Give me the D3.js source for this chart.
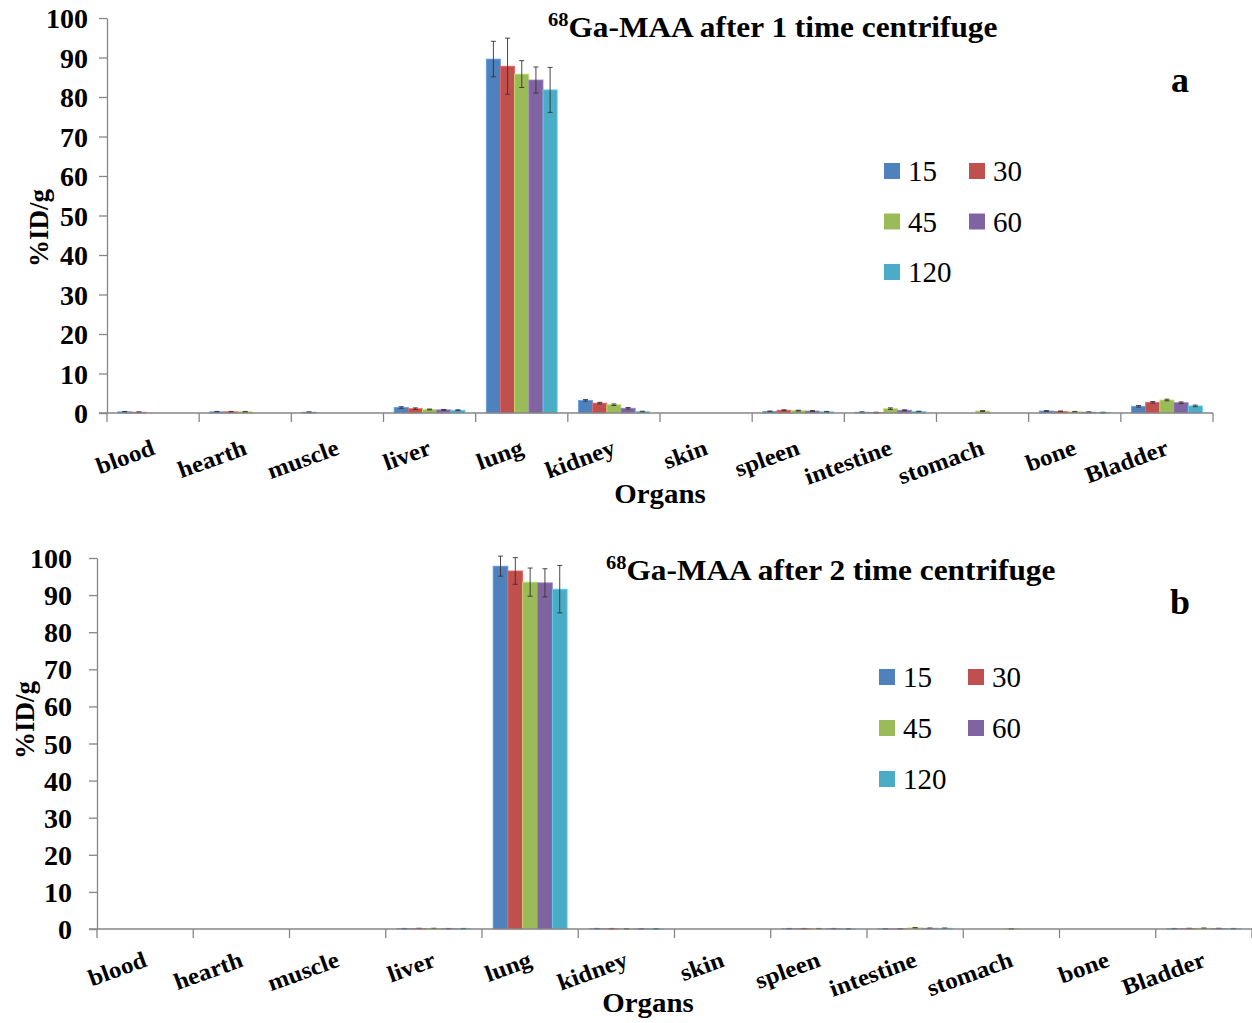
<!DOCTYPE html>
<html>
<head>
<meta charset="utf-8">
<script src="https://cdn.jsdelivr.net/npm/d3@7"></script>
<style>
  html, body { margin: 0; padding: 0; background: #fff; }
  svg { display: block; }
  text { font-family: "Liberation Serif", "Times New Roman", serif; fill: #000; }
</style>
</head>
<body>
<svg id="chart" width="1252" height="1023"></svg>
<script>
// ---------- data ----------
const organs = ["blood", "hearth", "muscle", "liver", "lung", "kidney", "skin", "spleen", "intestine", "stomach", "bone", "Bladder"];
const seriesNames = ["15", "30", "45", "60", "120"];
const seriesColors = ["#4F81BD", "#C0504D", "#9BBB59", "#8064A2", "#4BACC6"];
const yTicks = [0, 10, 20, 30, 40, 50, 60, 70, 80, 90, 100];

// panel a: after 1 time centrifuge (%ID/g)
const a15  = [0.3, 0.3, 0.2, 1.4, 89.6, 3.2, 0, 0.4, 0.2, 0,   0.5, 1.7];
const a30  = [0.2, 0.3, 0,   1.1, 87.8, 2.5, 0, 0.7, 0.1, 0,   0.4, 2.7];
const a45  = [0,   0.3, 0,   0.9, 85.8, 2.1, 0, 0.6, 1.1, 0.5, 0.3, 3.3];
const a60  = [0,   0,   0,   0.8, 84.3, 1.2, 0, 0.5, 0.7, 0,   0.2, 2.6];
const a120 = [0,   0,   0,   0.7, 81.8, 0.35,0, 0.3, 0.35,0,   0.1, 1.8];
const aErr15  = [0.1, 0.1, 0.1, 0.2, 4.5, 0.2, 0, 0.1, 0.1, 0,   0.1, 0.2];
const aErr30  = [0.1, 0.1, 0,   0.2, 7.1, 0.2, 0, 0.1, 0.1, 0,   0.1, 0.2];
const aErr45  = [0,   0.1, 0,   0.1, 3.4, 0.2, 0, 0.1, 0.2, 0.1, 0.1, 0.2];
const aErr60  = [0,   0,   0,   0.1, 3.3, 0.2, 0, 0.1, 0.1, 0,   0.1, 0.2];
const aErr120 = [0,   0,   0,   0.1, 5.7, 0.1, 0, 0.1, 0.1, 0,   0.1, 0.2];

// panel b: after 2 time centrifuge (%ID/g)
const b15  = [0, 0, 0, 0.1,  97.8, 0.1,  0, 0.1,  0.05, 0,    0, 0.1];
const b30  = [0, 0, 0, 0.15, 96.5, 0.1,  0, 0.1,  0.05, 0,    0, 0.15];
const b45  = [0, 0, 0, 0.15, 93.5, 0.05, 0, 0.1,  0.3,  0.05, 0, 0.2];
const b60  = [0, 0, 0, 0.1,  93.3, 0.05, 0, 0.1,  0.2,  0,    0, 0.15];
const b120 = [0, 0, 0, 0.1,  91.6, 0.05, 0, 0.05, 0.2,  0,    0, 0.1];
const bErr15  = [0, 0, 0, 0.05, 2.7, 0.05, 0, 0.05, 0.05, 0,    0, 0.05];
const bErr30  = [0, 0, 0, 0.05, 3.6, 0.05, 0, 0.05, 0.05, 0,    0, 0.05];
const bErr45  = [0, 0, 0, 0.05, 3.8, 0.05, 0, 0.05, 0.05, 0.05, 0, 0.05];
const bErr60  = [0, 0, 0, 0.05, 3.8, 0.05, 0, 0.05, 0.05, 0,    0, 0.05];
const bErr120 = [0, 0, 0, 0.05, 6.4, 0.05, 0, 0.05, 0.05, 0,    0, 0.05];

const titleA = { sup: "68", main: "Ga-MAA after 1 time centrifuge" };
const titleB = { sup: "68", main: "Ga-MAA after 2 time centrifuge" };
const yLabel = "%ID/g";
const xLabel = "Organs";

// ---------- drawing ----------
const svg = d3.select("#chart");
const FONT = '"Liberation Serif", "Times New Roman", serif';
const AXIS = "#868686";
const STRETCH = 1.07;

function drawPanel(p) {
  const g = svg.append("g");
  const y = d3.scaleLinear().domain([0, 100]).range([p.y0, p.y100]);
  const x0 = d3.scaleBand().domain(organs).range([p.left, p.right]).padding(0);
  const bw = x0.bandwidth();
  const x1 = d3.scaleBand().domain(seriesNames).range([bw * 0.75 / 6.5, bw * 5.75 / 6.5]).padding(0);

  // bars
  seriesNames.forEach((s, i) => {
    const rows = organs.map((o, j) => ({ o, v: p.values[i][j], e: p.errors[i][j] }));
    const sg = g.append("g");
    sg.selectAll("rect").data(rows.filter(d => d.v > 0)).join("rect")
      .attr("x", d => x0(d.o) + x1(s))
      .attr("y", d => y(d.v))
      .attr("width", x1.bandwidth())
      .attr("height", d => y(0) - y(d.v))
      .attr("fill", seriesColors[i])
      .attr("stroke", d3.color(seriesColors[i]).brighter(0.6))
      .attr("stroke-width", 0.8);
    const eb = rows.filter(d => d.v > 0 && d.e > 0);
    const cx = d => x0(d.o) + x1(s) + x1.bandwidth() / 2;
    sg.selectAll("line.v").data(eb).join("line").attr("class", "v")
      .attr("x1", cx).attr("x2", cx)
      .attr("y1", d => y(d.v + d.e)).attr("y2", d => y(Math.max(0, d.v - d.e)))
      .attr("stroke", "#333").attr("stroke-width", 0.9);
    ["t", "b"].forEach(k => {
      sg.selectAll("line.c" + k).data(eb).join("line").attr("class", "c" + k)
        .attr("x1", d => cx(d) - 2.5).attr("x2", d => cx(d) + 2.5)
        .attr("y1", d => y(k === "t" ? d.v + d.e : Math.max(0, d.v - d.e)))
        .attr("y2", d => y(k === "t" ? d.v + d.e : Math.max(0, d.v - d.e)))
        .attr("stroke", "#333").attr("stroke-width", 0.9);
    });
  });

  // y axis
  const ya = g.append("g").attr("transform", `translate(${p.left},0)`)
    .call(d3.axisLeft(y).tickValues(yTicks).tickSize(8).tickSizeOuter(0).tickPadding(p.tickPad));
  ya.select(".domain").attr("stroke", AXIS).attr("stroke-width", 1.3);
  ya.selectAll(".tick line").attr("stroke", AXIS).attr("stroke-width", 1.3);
  ya.selectAll(".tick text").attr("font-family", FONT).attr("font-weight", "bold")
    .attr("font-size", 28).attr("fill", "#000").attr("dy", "0.34em");

  // x axis
  const xg = g.append("g");
  xg.append("line").attr("x1", p.left - 8).attr("x2", p.right).attr("y1", y(0)).attr("y2", y(0))
    .attr("stroke", AXIS).attr("stroke-width", 1.6);
  const bounds = organs.map(o => x0(o)).concat([p.right]);
  xg.selectAll("line.t").data(bounds).join("line").attr("class", "t")
    .attr("x1", d => d).attr("x2", d => d).attr("y1", y(0)).attr("y2", y(0) + 9)
    .attr("stroke", AXIS).attr("stroke-width", 1.3);
  xg.selectAll("text").data(organs).join("text")
    .attr("transform", o => `translate(${x0(o) + bw / 2 + 3},${y(0) + p.labelDy}) rotate(-20) scale(${STRETCH},1)`)
    .attr("text-anchor", "end")
    .attr("font-family", FONT).attr("font-weight", "bold").attr("font-size", 23.5)
    .text(o => o);

  // axis titles
  g.append("text").attr("transform", `translate(${p.xTitleX},${p.xTitleY}) scale(${STRETCH},1)`)
    .attr("text-anchor", "middle")
    .attr("font-family", FONT).attr("font-weight", "bold").attr("font-size", 27).text(xLabel);
  g.append("text").attr("transform", `translate(${p.yTitleX},${p.yTitleY}) rotate(-90)`)
    .attr("text-anchor", "middle")
    .attr("font-family", FONT).attr("font-weight", "bold").attr("font-size", 27).text(yLabel);

  // chart title
  const t = g.append("text").attr("transform", `translate(${p.titleX},${p.titleY}) scale(1.08,1)`)
    .attr("font-family", FONT).attr("font-weight", "bold").attr("font-size", 29);
  t.append("tspan").attr("font-size", 19).attr("dy", -11).text(p.title.sup);
  t.append("tspan").attr("dy", 11).text(p.title.main);

  // panel letter
  g.append("text").attr("x", p.letterX).attr("y", p.letterY).attr("text-anchor", "middle")
    .attr("font-family", FONT).attr("font-weight", "bold").attr("font-size", 36).text(p.letter);

  // legend
  const lg = g.append("g");
  seriesNames.forEach((s, i) => {
    const col = i % 2, row = Math.floor(i / 2);
    const lx = p.legX + col * p.legColW, ly = p.legY + row * p.legRowH;
    lg.append("rect").attr("x", lx).attr("y", ly - 8).attr("width", 16).attr("height", 16)
      .attr("fill", seriesColors[i]);
    lg.append("text").attr("x", lx + 24).attr("y", ly).attr("dy", "0.35em")
      .attr("font-family", FONT).attr("font-size", 29).text(s);
  });
}

drawPanel({
  values: [a15, a30, a45, a60, a120], errors: [aErr15, aErr30, aErr45, aErr60, aErr120],
  left: 107, right: 1213, y0: 413, y100: 18, tickPad: 11, labelDy: 41,
  xTitleX: 660, xTitleY: 503, yTitleX: 48, yTitleY: 228,
  title: titleA, titleX: 548, titleY: 37, letter: "a", letterX: 1180, letterY: 92,
  legX: 884, legY: 171, legColW: 85, legRowH: 50.5
});
drawPanel({
  values: [b15, b30, b45, b60, b120], errors: [bErr15, bErr30, bErr45, bErr60, bErr120],
  left: 97, right: 1252, y0: 929, y100: 558, tickPad: 17, labelDy: 37,
  xTitleX: 648, xTitleY: 1012, yTitleX: 34, yTitleY: 720,
  title: titleB, titleX: 606, titleY: 580, letter: "b", letterX: 1180, letterY: 614,
  legX: 879, legY: 677, legColW: 89, legRowH: 51
});
</script>
</body>
</html>
